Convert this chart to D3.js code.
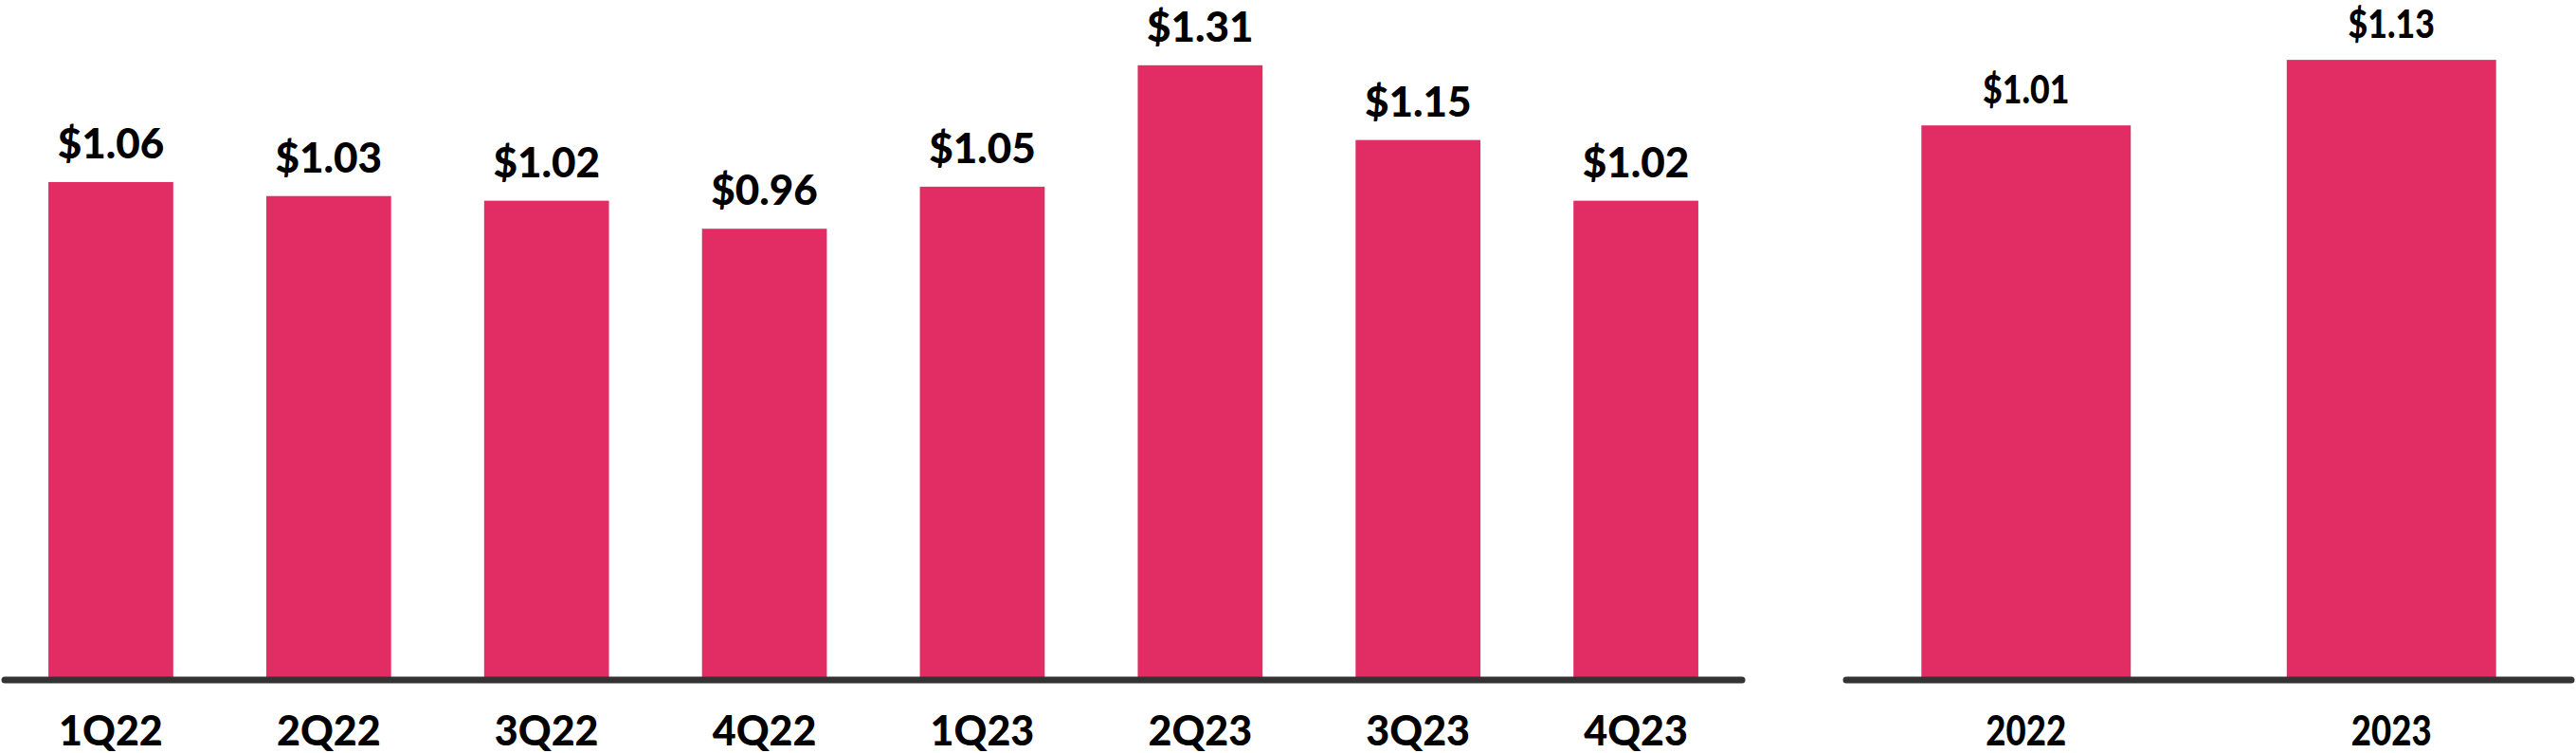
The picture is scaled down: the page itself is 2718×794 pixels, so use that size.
<!DOCTYPE html>
<html>
<head>
<meta charset="utf-8">
<script src="https://cdn.jsdelivr.net/npm/d3@7"></script>
<style>
  html, body { margin: 0; padding: 0; background: #ffffff; }
  svg { display: block; }
  text { font-family: "Lato", "Noto Sans", sans-serif; font-weight: 900; fill: #000; }
</style>
</head>
<body>
<svg id="chart" width="2718" height="794"></svg>
<script>
// Quarterly data (left panel)
const quarters = ["1Q22", "2Q22", "3Q22", "4Q22", "1Q23", "2Q23", "3Q23", "4Q23"];
const quarterValues = [1.06, 1.03, 1.02, 0.96, 1.05, 1.31, 1.15, 1.02];
// Annual data (right panel)
const years = ["2022", "2023"];
const yearValues = [1.01, 1.13];

const barColor = "#E12C64";
const axisColor = "#333333";
const svg = d3.select("#chart");
const fmt = v => "$" + d3.format(".2f")(v);

function panel(cats, vals, xRange, yTopAtOne, labelStretch, valSize, valGap) {
  const baseY = 714;
  const x = d3.scaleBand().domain(cats).range(xRange).paddingInner(0.427).paddingOuter(0.2135);
  const y = d3.scaleLinear().domain([0, 1]).range([baseY, yTopAtOne]);
  const g = svg.append("g");

  g.selectAll("rect.bar").data(vals).enter().append("rect")
    .attr("class", "bar")
    .attr("x", (d, i) => x(cats[i]))
    .attr("width", x.bandwidth())
    .attr("y", d => y(d))
    .attr("height", d => y(0) - y(d))
    .attr("fill", barColor);

  // axis line
  g.append("line")
    .attr("x1", xRange[0] + 3).attr("x2", xRange[1] - 3)
    .attr("y1", 717).attr("y2", 717)
    .attr("stroke", axisColor).attr("stroke-width", 7).attr("stroke-linecap", "round");

  // value labels
  g.selectAll("text.val").data(vals).enter().append("text")
    .attr("class", "val")
    .attr("text-anchor", "middle")
    .attr("font-size", valSize)
    .attr("transform", (d, i) => `translate(${x(cats[i]) + x.bandwidth() / 2},${y(d) - valGap}) scale(${labelStretch},1)`)
    .text(d => fmt(d));

  // category labels
  g.selectAll("text.cat").data(cats).enter().append("text")
    .attr("class", "cat")
    .attr("text-anchor", "middle")
    .attr("font-size", 43)
    .attr("transform", d => `translate(${x(d) + x.bandwidth() / 2},786) scale(${labelStretch},1)`)
    .text(d => d);
}

panel(quarters, quarterValues, [2, 1841], 714 - 492.5, 1, 44, 25);
panel(years, yearValues, [1945, 2716], 714 - 576, 0.85, 42, 23);
</script>
</body>
</html>
